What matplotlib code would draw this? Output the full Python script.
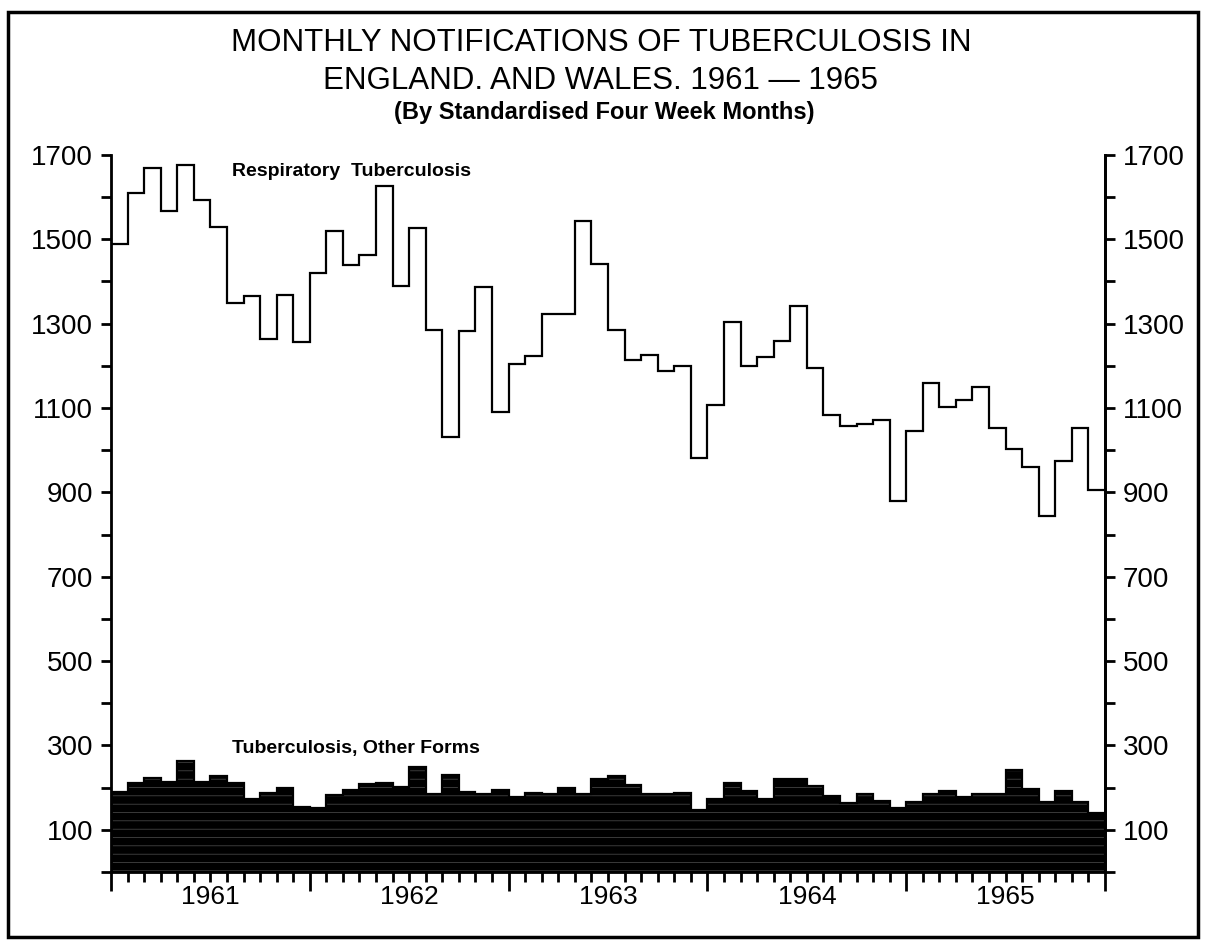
import numpy as np
import matplotlib
matplotlib.use("Agg")
import matplotlib.pyplot as plt
from matplotlib.patches import Rectangle

# four-week periods, 12 per year, 1961-1965
years = ["1961", "1962", "1963", "1964", "1965"]
periods_per_year = 12

respiratory = [
    1488, 1610, 1668, 1567, 1676, 1593, 1530, 1349, 1366, 1263, 1369, 1256,
    1419, 1520, 1439, 1464, 1626, 1389, 1526, 1286, 1032, 1283, 1387, 1091,
    1204, 1224, 1324, 1324, 1544, 1441, 1286, 1215, 1225, 1187, 1199, 981,
    1107, 1304, 1199, 1220, 1259, 1341, 1195, 1083, 1058, 1061, 1071, 879,
    1045, 1160, 1103, 1119, 1149, 1053, 1002, 961, 844, 974, 1052, 905,
]
other_forms = [
    190, 212, 222, 214, 264, 214, 228, 210, 172, 188, 200, 155,
    151, 182, 194, 208, 210, 202, 248, 186, 230, 190, 186, 194,
    178, 188, 184, 200, 186, 220, 228, 206, 184, 184, 188, 147,
    172, 210, 193, 172, 220, 220, 204, 180, 164, 186, 169, 151,
    167, 186, 193, 178, 184, 184, 242, 196, 167, 193, 167, 141,
]

title_lines = [
    "MONTHLY NOTIFICATIONS OF TUBERCULOSIS IN",
    "ENGLAND. AND WALES. 1961 \u2014 1965",
]
subtitle = "(By Standardised Four Week Months)"

plt.rcParams["font.family"] = ["Liberation Sans", "DejaVu Sans"]
plt.rcParams["hatch.linewidth"] = 0.45

fig = plt.figure(figsize=(12.09, 9.46), dpi=100)
ax = fig.add_axes([0.0918, 0.0782, 0.8222, 0.758])

edges = np.arange(len(respiratory) + 1)

# other forms: dense filled steps with faint horizontal streaks
ax.stairs(other_forms, edges, baseline=0, fill=True, facecolor="black",
          edgecolor="#5a5a5a", hatch="--", linewidth=0)
ax.stairs(other_forms, edges, baseline=0, color="black", linewidth=1.6)

# respiratory: plain step line
ax.stairs(respiratory, edges, baseline=None, color="black", linewidth=1.6)

ax.set_xlim(0, len(respiratory))
ax.set_ylim(0, 1700)

ax.spines["top"].set_visible(False)
for s in ["left", "right", "bottom"]:
    ax.spines[s].set_linewidth(2)

# x axis: month boundaries, long ticks at year ends
ax.set_xticks(np.arange(0, len(respiratory) + 1, periods_per_year))
ax.set_xticks(np.arange(0, len(respiratory) + 1), minor=True)
ax.tick_params(axis="x", which="major", length=14, width=2, labelbottom=False)
ax.tick_params(axis="x", which="minor", length=7, width=2)
for i, yr in enumerate(years):
    ax.annotate(yr, xy=(i * periods_per_year + periods_per_year / 2, 0),
                xycoords=("data", "axes fraction"), xytext=(0, -9),
                textcoords="offset points", ha="center", va="top", fontsize=19)

# y axis on both sides
yticks = np.arange(100, 1701, 200)
ax2 = ax.twinx()
ax2.set_ylim(ax.get_ylim())
ax2.spines["top"].set_visible(False)
ax2.spines["right"].set_linewidth(2)
for a in (ax, ax2):
    a.set_yticks(yticks)
    a.set_yticks(np.arange(0, 1701, 100), minor=True)
    a.tick_params(axis="y", which="both", length=7, width=2, labelsize=20, pad=6)

ax.text(7.3, 1660, "Respiratory  Tuberculosis", fontsize=14, fontweight="bold", va="center")
ax.text(7.3, 294, "Tuberculosis, Other Forms", fontsize=14, fontweight="bold", va="center")

fig.text(0.497, 1 - 43 / 946, title_lines[0], ha="center", va="center", fontsize=22.5)
fig.text(0.497, 1 - 81 / 946, title_lines[1], ha="center", va="center", fontsize=22.5)
fig.text(0.500, 1 - 113 / 946, subtitle, ha="center", va="center", fontsize=17, fontweight="bold")

# frame round the whole sheet
fig.patches.append(Rectangle((8 / 1209, 9 / 946), 1190 / 1209, 925 / 946,
                             transform=fig.transFigure, fill=False,
                             edgecolor="black", linewidth=2.5))

fig.savefig("out.png", dpi=100)
